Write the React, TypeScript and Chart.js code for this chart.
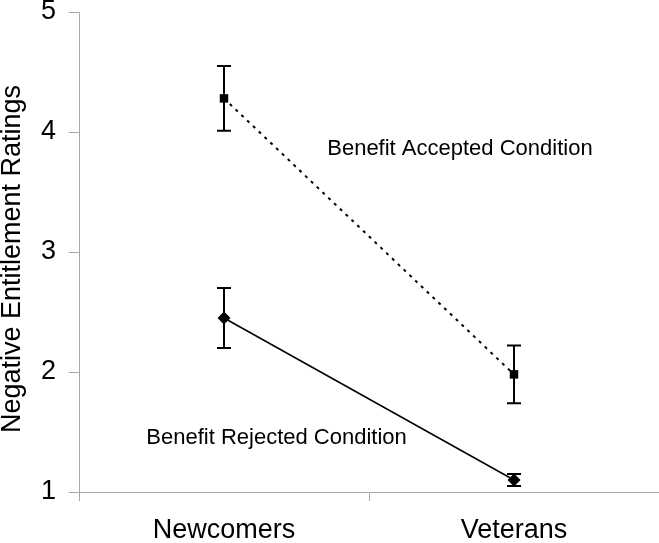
import React, { useEffect, useRef } from "react";
import { Chart, registerables } from "chart.js";
Chart.register(...registerables);

const categories = ["Newcomers", "Veterans"];
const acceptedMeans = [4.28, 1.98];
const acceptedErrors = [0.27, 0.24];
const rejectedMeans = [2.45, 1.1];
const rejectedErrors = [0.25, 0.05];
const seriesLabels = ["Benefit Accepted Condition", "Benefit Rejected Condition"];
const yAxisTitle = "Negative Entitlement Ratings";
const yMin = 1;
const yMax = 5;

const FONT = "'Liberation Sans', Arial, sans-serif";
const AXIS_GRAY = "#a8a8a8";

const errorBarPlugin = {
  id: "errorBars",
  afterDatasetsDraw(chart: any) {
    const ctx = chart.ctx;
    const yScale = chart.scales.y;
    chart.data.datasets.forEach((ds: any, di: number) => {
      const meta = chart.getDatasetMeta(di);
      ctx.save();
      ctx.strokeStyle = "#000";
      ctx.lineWidth = 2;
      meta.data.forEach((pt: any, i: number) => {
        const v = ds.data[i];
        const e = ds.errors[i];
        const x = pt.x;
        const yTop = yScale.getPixelForValue(v + e);
        const yBot = yScale.getPixelForValue(v - e);
        ctx.beginPath();
        ctx.moveTo(x, yTop);
        ctx.lineTo(x, yBot);
        ctx.moveTo(x - 7, yTop);
        ctx.lineTo(x + 7, yTop);
        ctx.moveTo(x - 7, yBot);
        ctx.lineTo(x + 7, yBot);
        ctx.stroke();
      });
      ctx.restore();
    });
  },
};

const labelPlugin = {
  id: "seriesLabels",
  afterDraw(chart: any) {
    const ctx = chart.ctx;
    const area = chart.chartArea;
    const yScale = chart.scales.y;
    const places = [
      { fx: 0.428, yv: 3.86 },
      { fx: 0.116, yv: 1.45 },
    ];
    ctx.save();
    ctx.fillStyle = "#000";
    ctx.font = `22px ${FONT}`;
    ctx.textBaseline = "middle";
    ctx.textAlign = "left";
    chart.data.datasets.forEach((ds: any, di: number) => {
      const p = places[di];
      const x = area.left + p.fx * (area.right - area.left);
      const y = yScale.getPixelForValue(p.yv);
      ctx.fillText(ds.label, x, y);
    });
    // y-axis title
    ctx.translate(13, (area.top + area.bottom) / 2 + 7);
    ctx.rotate(-Math.PI / 2);
    ctx.textAlign = "center";
    ctx.font = `27px ${FONT}`;
    ctx.fillText(yAxisTitle, 0, 0);
    ctx.restore();
  },
};

export default function App() {
  const ref = useRef<HTMLCanvasElement>(null);
  useEffect(() => {
    if (!ref.current) return;
    const chart = new Chart(ref.current, {
      type: "line",
      data: {
        labels: categories,
        datasets: [
          {
            label: seriesLabels[0],
            data: acceptedMeans,
            errors: acceptedErrors,
            borderColor: "#000",
            backgroundColor: "#000",
            borderWidth: 2,
            borderDash: [3, 5],
            pointStyle: "rect",
            pointRadius: 6,
            pointBorderWidth: 0,
            pointBackgroundColor: "#000",
          } as any,
          {
            label: seriesLabels[1],
            data: rejectedMeans,
            errors: rejectedErrors,
            borderColor: "#000",
            backgroundColor: "#000",
            borderWidth: 1.5,
            pointStyle: "rectRot",
            pointRadius: 6.5,
            pointBorderWidth: 0,
            pointBackgroundColor: "#000",
          } as any,
        ],
      },
      options: {
        animation: false,
        responsive: false,
        maintainAspectRatio: false,
        layout: { autoPadding: false, padding: { top: 12, right: 0, bottom: 0, left: 0 } },
        plugins: { legend: { display: false }, tooltip: { enabled: false } },
        scales: {
          x: {
            type: "category",
            offset: true,
            grid: {
              offset: true,
              drawOnChartArea: false,
              drawTicks: true,
              tickLength: 9,
              color: AXIS_GRAY,
            },
            border: { color: AXIS_GRAY, width: 1 },
            ticks: {
              color: "#000",
              padding: 13,
              font: { family: FONT, size: 27 },
              maxRotation: 0,
            },
            afterFit(scale: any) {
              scale.height = 51;
              scale.paddingLeft = 0;
              scale.paddingRight = 0;
            },
          },
          y: {
            type: "linear",
            min: yMin,
            max: yMax,
            grid: {
              drawOnChartArea: false,
              drawTicks: true,
              tickLength: 10,
              color: AXIS_GRAY,
            },
            border: { color: AXIS_GRAY, width: 1 },
            ticks: {
              stepSize: 1,
              color: "#000",
              padding: 13,
              font: { family: FONT, size: 27 },
            },
            title: { display: false },
            afterFit(scale: any) {
              scale.width = 79;
              scale.paddingTop = 0;
              scale.paddingBottom = 0;
            },
          },
        },
      },
      plugins: [errorBarPlugin, labelPlugin],
    } as any);
    return () => chart.destroy();
  }, []);
  return (
    <div style={{ position: "absolute", left: 0, top: 0, width: 659, height: 543, background: "#fff" }}>
      <canvas ref={ref} width={659} height={543} style={{ width: 659, height: 543, display: "block" }} />
    </div>
  );
}
